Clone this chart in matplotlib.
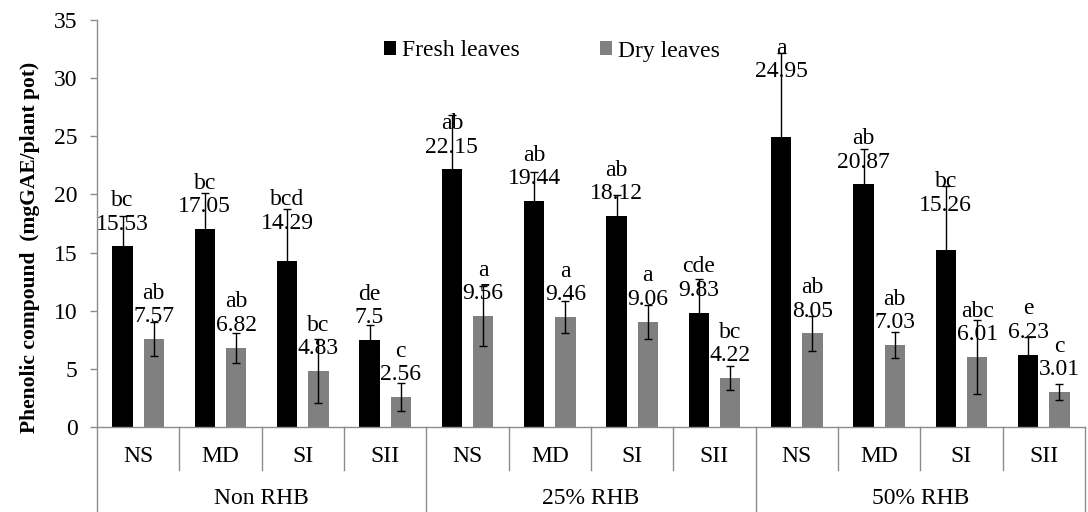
import matplotlib
matplotlib.use("Agg")
import matplotlib.pyplot as plt
from matplotlib.patches import Patch
import numpy as np

plt.rcParams['font.family'] = ['Liberation Serif', 'DejaVu Serif']

# Data
groups = ["Non RHB", "25% RHB", "50% RHB"]
treatments = ["NS", "MD", "SI", "SII"]

fresh = [15.53, 17.05, 14.29, 7.5,
         22.15, 19.44, 18.12, 9.83,
         24.95, 20.87, 15.26, 6.23]
fresh_err = [2.6, 3.04, 4.42, 1.3,
             4.7, 2.45, 1.8, 2.9,
             7.17, 3.05, 5.45, 1.55]
fresh_letters = ["bc", "bc", "bcd", "de",
                 "ab", "ab", "ab", "cde",
                 "a", "ab", "bc", "e"]

dry = [7.57, 6.82, 4.83, 2.56,
       9.56, 9.46, 9.06, 4.22,
       8.05, 7.03, 6.01, 3.01]
dry_err = [1.48, 1.3, 2.75, 1.2,
           2.6, 1.4, 1.45, 1.0,
           1.5, 1.13, 3.2, 0.7]
dry_letters = ["ab", "ab", "bc", "c",
               "a", "a", "a", "bc",
               "ab", "ab", "abc", "c"]

# extra lift (points) for fresh-leaf labels that sit above tall error bars
fresh_label_lift = {2: 11, 8: 31, 10: 16}

FS = 17
AXIS_GREY = "#8c8c8c"

fig = plt.figure(figsize=(10.88, 5.12), dpi=100)
ax = fig.add_axes([97 / 1088, 1 - 427 / 512, 988 / 1088, 407 / 512])

n = len(fresh)
x = np.arange(n)
off, w = 0.19, 0.25

ax.bar(x - off, fresh, width=w, color="black", zorder=2)
ax.bar(x + off, dry, width=w, color="#808080", zorder=2)
ax.errorbar(x - off, fresh, yerr=fresh_err, fmt="none", ecolor="black",
            elinewidth=1, capsize=3, capthick=1, zorder=5)
ax.errorbar(x + off, dry, yerr=dry_err, fmt="none", ecolor="black",
            elinewidth=1, capsize=3, capthick=1, zorder=5)

for i, (xi, v, l) in enumerate(zip(x - off, fresh, fresh_letters)):
    ax.annotate(f"{l}\n{v:g}", (xi, v), xytext=(0, 8.5 + fresh_label_lift.get(i, 0)),
                textcoords="offset points", ha="center", va="bottom",
                fontsize=FS, linespacing=1.15, zorder=4)
for xi, v, l in zip(x + off, dry, dry_letters):
    ax.annotate(f"{l}\n{v:g}", (xi, v), xytext=(0, 8.5), textcoords="offset points",
                ha="center", va="bottom", fontsize=FS, linespacing=1.15, zorder=4)

ax.set_xlim(-0.5, n - 0.5)
ax.set_ylim(0, 35)
ax.set_yticks(range(0, 36, 5))
ax.tick_params(axis="y", direction="out", length=5, width=1, color=AXIS_GREY,
               labelsize=FS, pad=9)
ax.set_xticks([])
for s in ("top", "right"):
    ax.spines[s].set_visible(False)
for s in ("left", "bottom"):
    ax.spines[s].set_color(AXIS_GREY)
    ax.spines[s].set_linewidth(1)

# Two-level category axis
trans = ax.get_xaxis_transform()
for b in np.arange(-0.5, n, 1.0):
    is_group = int(round(b + 0.5)) % 4 == 0
    ax.plot([b, b], [0, -0.209 if is_group else -0.106], color=AXIS_GREY, lw=1,
            transform=trans, clip_on=False)
for i in range(n):
    ax.text(i, -0.0737, treatments[i % 4], transform=trans, ha="center", va="center",
            fontsize=FS)
for g, name in enumerate(groups):
    ax.text(g * 4 + 1.5, -0.176, name, transform=trans, ha="center", va="center",
            fontsize=FS)

fig.text(30 / 1088, 1 - 247 / 512, "Phenolic compound  (mgGAE/plant pot)",
         rotation=90, ha="center", va="center", fontsize=15.5, fontweight="bold")

handles = [Patch(facecolor="black", label="Fresh leaves"),
           Patch(facecolor="#808080", label="Dry leaves")]
fig.legend(handles=handles, loc="center", bbox_to_anchor=(552 / 1088, 1 - 51 / 512),
           ncol=2, frameon=False, fontsize=FS, handlelength=0.5, handleheight=0.5,
           handletextpad=0.25, columnspacing=3.4)

fig.savefig("out.png", dpi=100)
